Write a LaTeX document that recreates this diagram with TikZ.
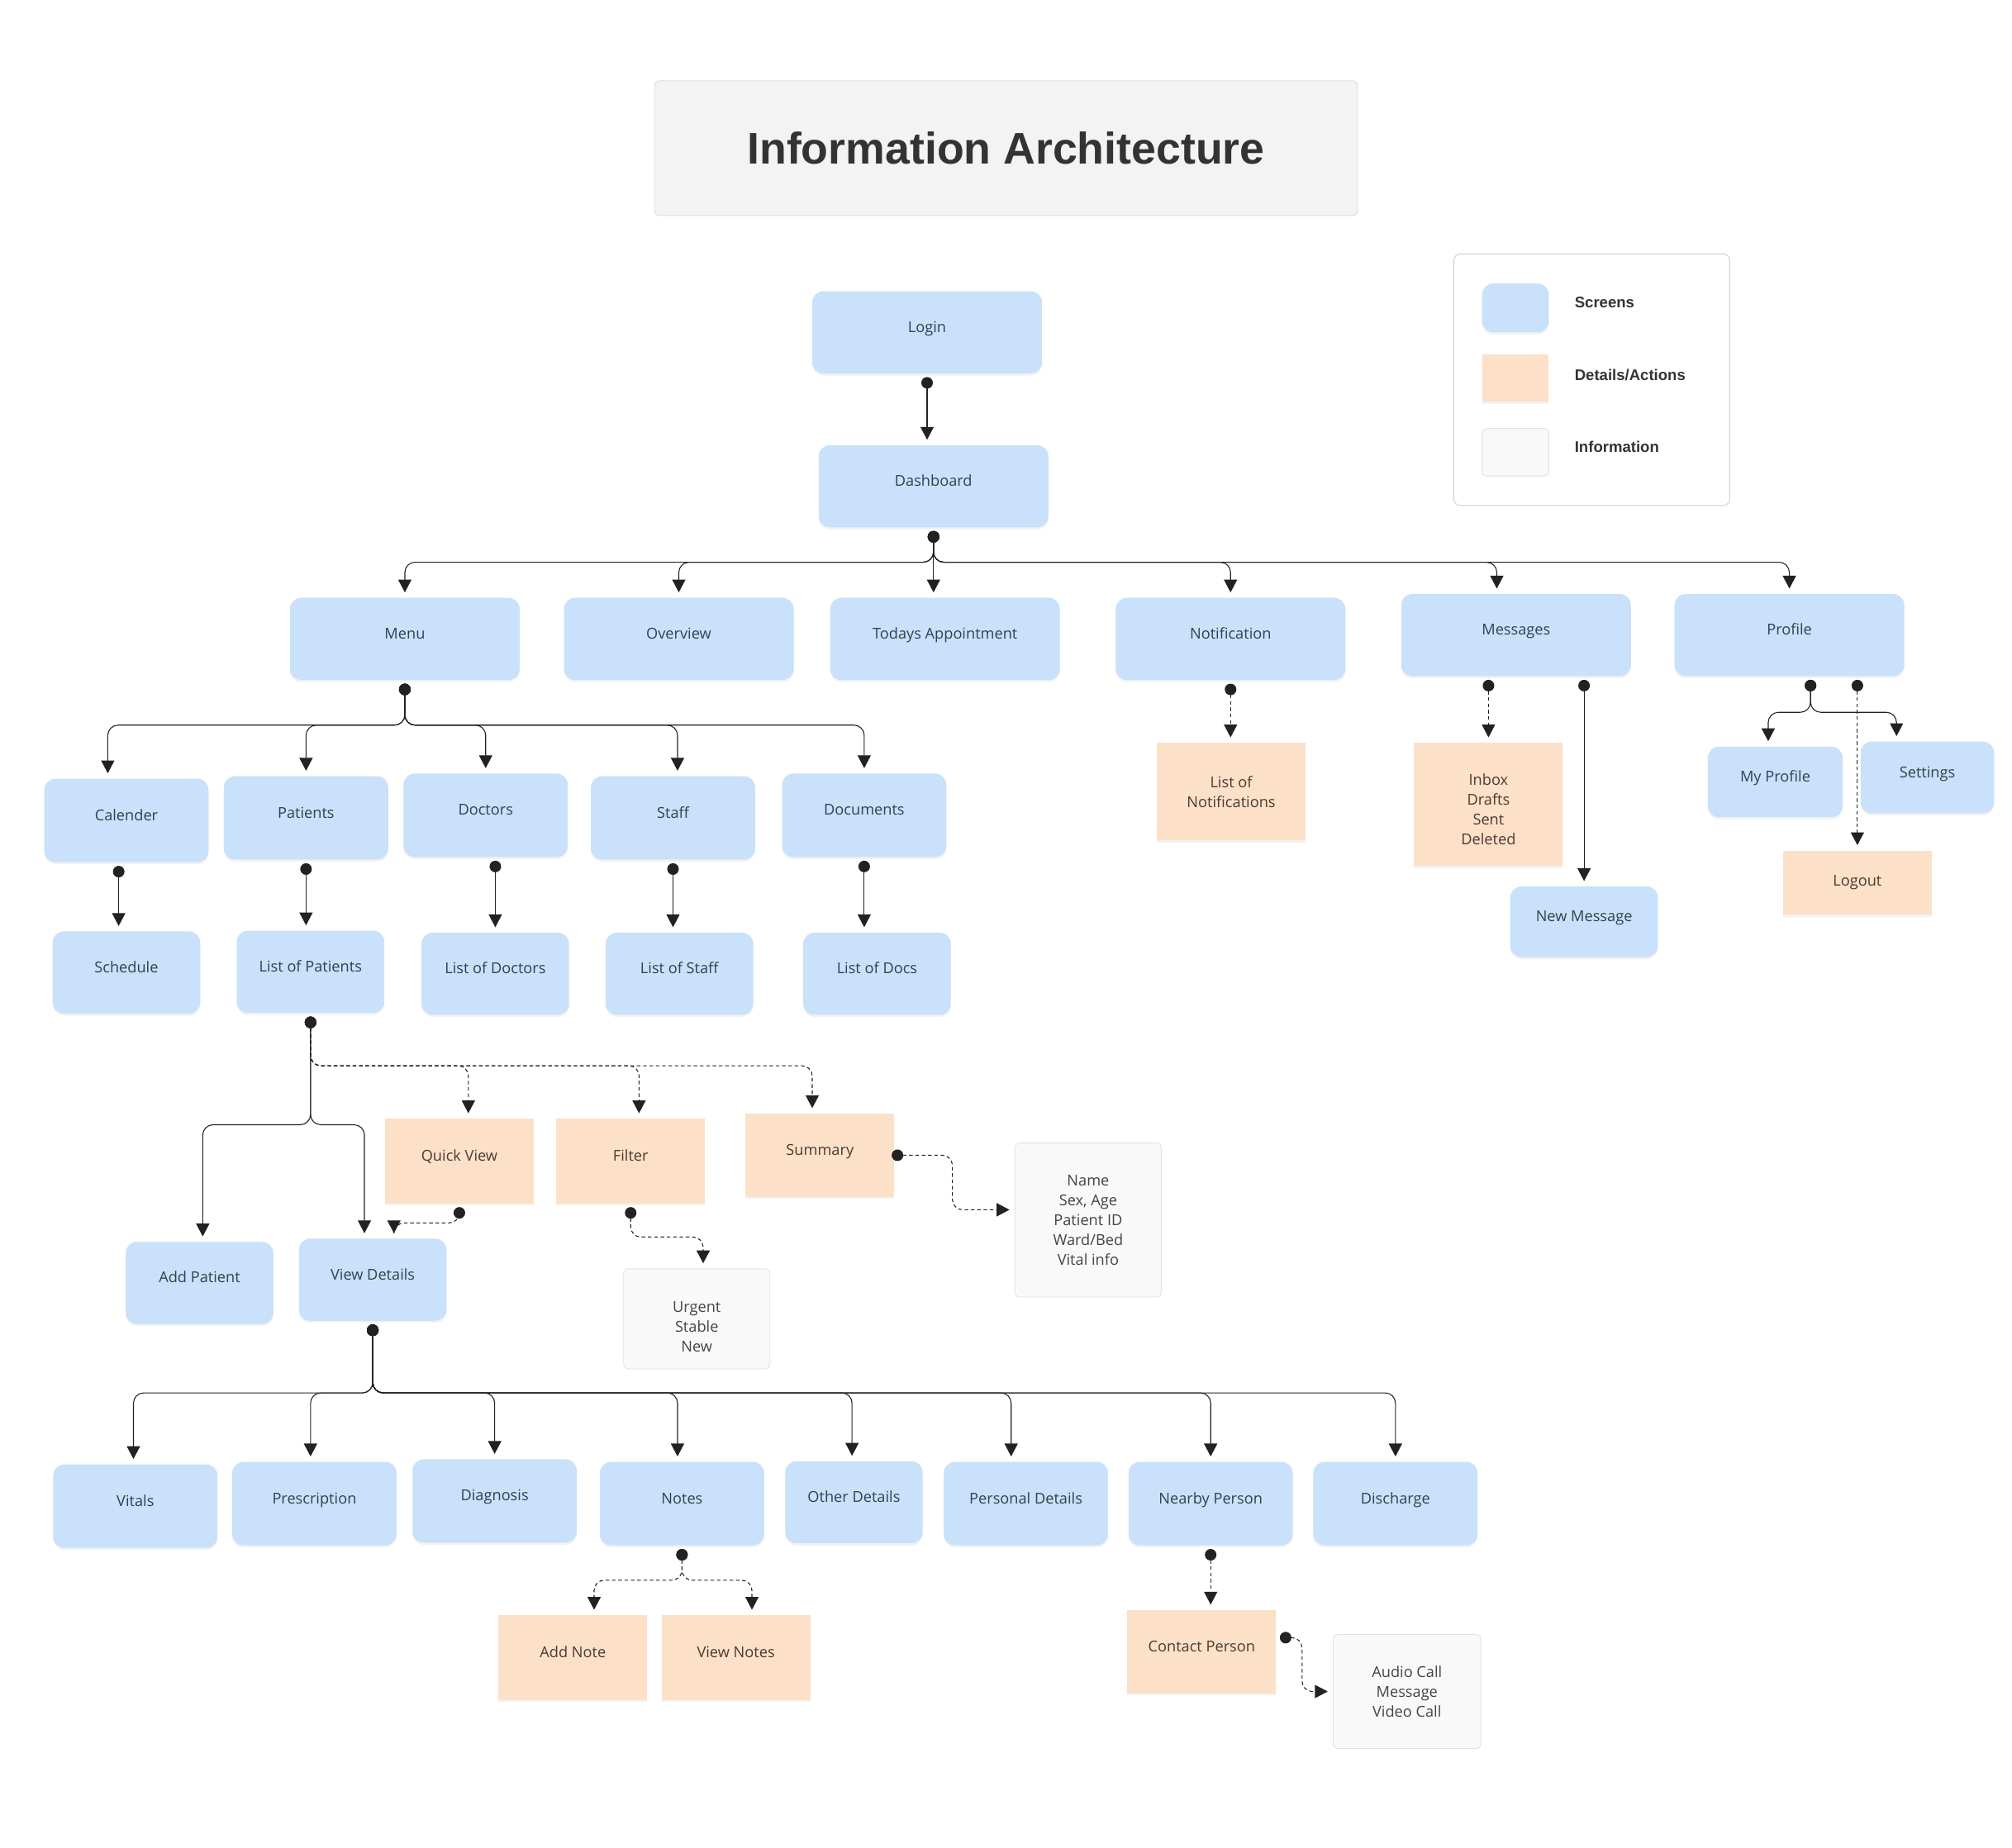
\documentclass[tikz,border=0pt]{standalone}
\usepackage{fontspec}
\setmainfont{Open Sans}
\newfontfamily\headfont{Liberation Sans}
\usetikzlibrary{arrows.meta,calc,shadows}
\definecolor{screenblue}{HTML}{C9E1FA}
\definecolor{detailpeach}{HTML}{FCE0C8}
\definecolor{infogray}{HTML}{F9F9F9}
\definecolor{infoline}{HTML}{E2E2E2}
\definecolor{titlegray}{HTML}{F3F3F3}
\definecolor{titleline}{HTML}{DCDCDC}
\definecolor{inkdark}{HTML}{222222}
\definecolor{screentext}{HTML}{33414F}
\definecolor{detailtext}{HTML}{4B3B30}
\definecolor{infotext}{HTML}{444444}
\tikzset{
  % three kinds of boxes, as the legend lists them
  screen node/.style={rectangle,rounded corners=2.6mm,fill=screenblue,text=screentext,
    inner sep=0,font=\fontsize{10}{13.2}\selectfont,one line,
    drop shadow={shadow xshift=0mm,shadow yshift=-0.5mm,opacity=0.10}},
  detail node/.style={rectangle,fill=detailpeach,text=detailtext,inner sep=0,
    minimum width=34.8mm,minimum height=19.8mm,align=center,
    font=\fontsize{10}{13.2}\selectfont,
    drop shadow={shadow xshift=0mm,shadow yshift=-0.5mm,opacity=0.10}},
  info node/.style={rectangle,rounded corners=1mm,fill=infogray,draw=infoline,line width=0.5pt,
    text=infotext,inner sep=0,align=center,font=\fontsize{10}{13.2}\selectfont},
  one line/.style={text height=2.6mm,text depth=2.6mm},
  big screen/.style={screen node,minimum width=53.7mm,minimum height=19.2mm},
  mid screen/.style={screen node,minimum width=38.4mm,minimum height=19.5mm},
  small screen/.style={screen node,minimum width=34.5mm,minimum height=19.2mm},
  % connectors: dot at the parent, arrow head at the child
  link/.style={draw=inkdark,line width=0.6pt,rounded corners=2.4mm,
    {Circle[length=2.7mm]}-{Triangle[length=3mm,width=3.1mm]},
    shorten <=0.8mm,shorten >=1.2mm},
  dash link/.style={link,dash pattern=on 2.4pt off 1.8pt}
}

\begin{document}
\begin{tikzpicture}[x=0.3mm,y=-0.3mm]
\useasboundingbox (0,0) rectangle (1568,1440);

% title and legend
\node[rectangle,rounded corners=1.2mm,fill=titlegray,draw=titleline,line width=0.5pt,
  minimum width=164.4mm,minimum height=31.5mm,text=black!80,
  font=\headfont\bfseries\fontsize{29.5}{34}\selectfont] (title) at (784,115.5) {Information Architecture};
\node[rectangle,rounded corners=1.5mm,draw=black!20,line width=0.5pt,fill=white,
  minimum width=64.5mm,minimum height=58.8mm] (legend) at (1240.5,296) {};
\node[screen node,minimum width=15.6mm,minimum height=11.4mm] (keyscreen) at (1181,240) {};
\node[detail node,minimum width=15.6mm,minimum height=11.1mm] (keydetail) at (1181,294.5) {};
\node[info node,minimum width=15.6mm,minimum height=11.1mm] (keyinfo) at (1181,352.5) {};
\tikzset{key text/.style={anchor=west,inner sep=0,text=black!80,font=\headfont\bfseries\fontsize{10.2}{12}\selectfont}}
\node[key text] (keyscreentext) at (1227,236) {Screens};
\node[key text] (keydetailtext) at (1227,292) {Details/Actions};
\node[key text] (keyinfotext) at (1227,348) {Information};

% top of the tree
\node[big screen] (login) at (722.5,259) {Login};
\node[big screen] (dash) at (727.5,379) {Dashboard};

\node[big screen] (menu) at (315.5,498) {Menu};
\node[big screen] (overview) at (529,498) {Overview};
\node[big screen] (appt) at (736.5,498) {Todays Appointment};
\node[big screen] (notif) at (959,498) {Notification};
\node[big screen] (msg) at (1181.5,495) {Messages};
\node[big screen] (prof) at (1394.5,495) {Profile};

% menu branch
\node[mid screen] (cal) at (98.5,639.5) {Calender};
\node[mid screen] (pat) at (238.5,637.5) {Patients};
\node[mid screen] (doc) at (378.5,635.5) {Doctors};
\node[mid screen] (staff) at (524.5,637.5) {Staff};
\node[mid screen] (docs) at (673.5,635.5) {Documents};

\node[small screen] (sched) at (98.5,758) {Schedule};
\node[small screen] (lop) at (242,757.5) {List of Patients};
\node[small screen] (lod) at (386,759) {List of Doctors};
\node[small screen] (los) at (529.5,759) {List of Staff};
\node[small screen] (lodocs) at (683.5,759) {List of Docs};

% right hand branches
\node[detail node,minimum height=22.8mm] (notiflist) at (959.5,617) {List of\\Notifications};
\node[detail node,minimum height=28.8mm] (inbox) at (1160,627) {\rule{0pt}{5mm}Inbox\\Drafts\\Sent\\Deleted};
\node[small screen,minimum height=16.5mm] (newmsg) at (1234.5,718.5) {New Message};
\node[screen node,minimum width=31.5mm,minimum height=16.5mm] (myprof) at (1383.5,609.5) {My Profile};
\node[screen node,minimum width=31.2mm,minimum height=16.8mm] (settings) at (1502,606) {Settings};
\node[detail node,minimum height=15mm] (logout) at (1447.5,688) {Logout};

% patients
\node[detail node,one line] (qview) at (358,905) {Quick View};
\node[detail node,one line] (filter) at (491.5,905) {Filter};
\node[detail node,one line,minimum height=19.5mm] (summary) at (639,900.5) {Summary};
\node[small screen] (addp) at (155.5,1000) {Add Patient};
\node[small screen] (viewd) at (290.5,997.5) {View Details};
\node[info node,minimum width=34.2mm,minimum height=23.4mm] (urgent) at (543,1028) {\rule{0pt}{6.2mm}Urgent\\Stable\\New};
\node[info node,minimum width=34.2mm,minimum height=36mm] (namebox) at (848,951) {Name\\Sex, Age\\Patient ID\\Ward/Bed\\Vital info};

\node[mid screen] (vitals) at (105.5,1174) {Vitals};
\node[mid screen] (presc) at (245,1172) {Prescription};
\node[mid screen] (diag) at (385.5,1170) {Diagnosis};
\node[mid screen] (notes) at (531.5,1172) {Notes};
\node[screen node,minimum width=32.1mm,minimum height=19.2mm] (other) at (665.5,1171) {Other Details};
\node[mid screen] (pers) at (799.5,1172) {Personal Details};
\node[mid screen] (nearby) at (943.5,1172) {Nearby Person};
\node[mid screen] (disch) at (1087.5,1172) {Discharge};

\node[detail node,one line] (addnote) at (446.5,1292) {Add Note};
\node[detail node,one line] (viewnotes) at (573.5,1292) {View Notes};
\node[detail node,one line,minimum height=19.5mm] (contact) at (936.5,1287.5) {Contact Person};
\node[info node,minimum width=34.5mm,minimum height=26.7mm] (audio) at (1096.5,1318.5) {Audio Call\\Message\\Video Call};

% connectors
\draw[link] (login.south) -- (login.south |- dash.north);
\foreach \kid/\dx in {menu/0,overview/0,notif/0,msg/-15,prof/0}
  \draw[link] (dash.south) -- ++(0,27) -| ($(\kid.north)+(\dx,0)$);
\draw[link] (dash.south) -- (dash.south |- appt.north);

\foreach \kid/\dx in {cal/-14.5,pat/0,doc/0,staff/3.5,docs/0}
  \draw[link] (menu.south) -- ++(0,35) -| ($(\kid.north)+(\dx,0)$);
\draw[link] ($(cal.south)+(-6,0)$) -- ($(sched.north)+(-6,0)$);
\draw[link] (pat.south) -- (pat.south |- lop.north);
\draw[link] (lod.north |- doc.south) -- (lod.north);
\draw[link] (staff.south) -- (staff.south |- los.north);
\draw[link] (docs.south) -- (docs.south |- lodocs.north);

\draw[dash link] (notif.south) -- (notif.south |- notiflist.north);
\draw[dash link] (inbox.north |- msg.south) -- (inbox.north);
\draw[link] (newmsg.north |- msg.south) -- (newmsg.north);
\draw[link] ($(prof.south)+(16.5,0)$) -- ++(0,28) -| ($(myprof.north)+(-5.5,0)$);
\draw[link] ($(prof.south)+(16.5,0)$) -- ++(0,28) -| ($(settings.north)+(-24,0)$);
\draw[dash link] (logout.north |- prof.south) -- (logout.north);

\foreach \kid/\dx in {qview/7,filter/6.5,summary/-6}
  \draw[dash link] (lop.south) -- ++(0,41) -| ($(\kid.north)+(\dx,0)$);
\draw[link] (lop.south) -- ++(0,87) -| ($(addp.north)+(2.5,0)$);
\draw[link] (lop.south) -- ++(0,87) -| ($(viewd.north)+(-6.5,0)$);
\draw[dash link] (qview.south) -- ++(0,15) -| ($(viewd.north)+(16.5,0)$);
\draw[dash link] (filter.south) -- ++(0,26) -| ($(urgent.north)+(5,0)$);
\draw[dash link] ($(summary.east)+(-5,0)$) -- ++(50,0) |- ($(namebox.west)+(0,-8)$);

\foreach \kid/\dx in {vitals/-1.5,presc/-3,diag/0,notes/-3.5,other/-1.5,pers/-11.5,nearby/0,disch/0}
  \draw[link] (viewd.south) -- ++(0,56) -| ($(\kid.north)+(\dx,0)$);
\draw[dash link] (notes.south) -- ++(0,27) -| ($(addnote.north)+(16.5,0)$);
\draw[dash link] (notes.south) -- ++(0,27) -| ($(viewnotes.north)+(12.5,0)$);
\draw[dash link] (nearby.south) -- (nearby.south |- contact.north);
\draw[dash link] ($(contact.east)+(0,-11)$) -- ++(20,0) |- (audio.west);
\end{tikzpicture}
\end{document}
